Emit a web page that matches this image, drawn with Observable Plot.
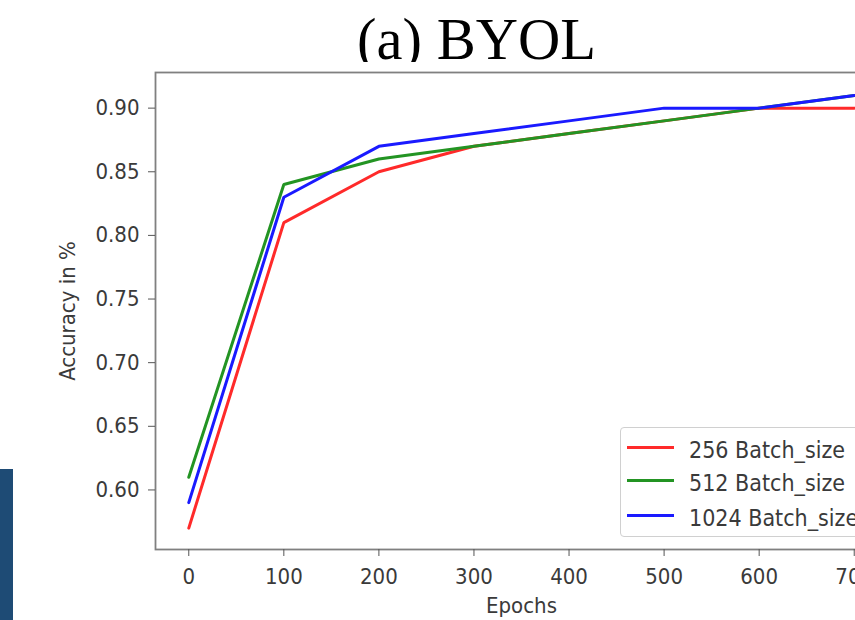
<!DOCTYPE html>
<html><head><meta charset="utf-8">
<script src="https://cdn.jsdelivr.net/npm/d3@7"></script>
<script src="https://cdn.jsdelivr.net/npm/@observablehq/plot@0.6"></script>
<style>
body{margin:0;overflow:hidden;background:#fff}
#wrap{position:relative;width:855px;height:620px;overflow:hidden;background:#fff}
#titleclip{position:absolute;left:0;top:0;width:855px;height:62px;overflow:hidden;pointer-events:none}
#title{position:absolute;left:0;top:11px;width:953px;text-align:center;font-family:"Liberation Serif","Times New Roman",serif;font-size:58.5px;line-height:58px;color:#000;white-space:nowrap}
#bar{position:absolute;left:0;top:469px;width:13px;height:151px;background:#1e4b75}
#legend{position:absolute;left:620px;top:427px;width:270px;height:110px;border:1px solid #d0d0d0;border-radius:4px;background:#fff;box-sizing:border-box}
.row{position:absolute;left:0;height:34px;width:270px}
.sw{position:absolute;left:6px;top:16px;width:47px;height:3px}
.lab{position:absolute;left:68px;top:3px;line-height:34px;font-family:"DejaVu Sans Condensed","DejaVu Sans",sans-serif;font-stretch:condensed;font-size:23px;color:#3a3a3a;white-space:nowrap}
</style></head><body><div id="wrap"></div>
<script>
const epochs = [0, 100, 200, 300, 400, 500, 600, 700];
const seriesNames = ["256 Batch_size", "512 Batch_size", "1024 Batch_size"];
const acc256 = [0.57, 0.81, 0.85, 0.87, 0.88, 0.89, 0.90, 0.90];
const acc512 = [0.61, 0.84, 0.86, 0.87, 0.88, 0.89, 0.90, 0.91];
const acc1024 = [0.59, 0.83, 0.87, 0.88, 0.89, 0.90, 0.90, 0.91];
const seriesColors = ["#ff2a2a", "#239423", "#1a1aff"];
const yTicks = [0.60, 0.65, 0.70, 0.75, 0.80, 0.85, 0.90];
const xTicks = [0, 100, 200, 300, 400, 500, 600, 700];
const titleText = "(a) BYOL";
const xLabel = "Epochs";
const yLabel = "Accuracy in %";

const seriesValues = [acc256, acc512, acc1024];
const data = [];
seriesNames.forEach((name, i) => {
  epochs.forEach((e, j) => data.push({series: name, epoch: e, acc: seriesValues[i][j]}));
});

const font = '"DejaVu Sans Condensed","DejaVu Sans",sans-serif';
const chart = Plot.plot({
  width: 855,
  height: 620,
  marginLeft: 155,
  marginRight: -32,
  marginTop: 72,
  marginBottom: 71,
  style: {fontFamily: font, fontSize: "22px", fontStretch: "condensed", background: "transparent", overflow: "hidden"},
  x: {domain: [-35, 735], range: [155, 887]},
  y: {domain: [0.5532, 0.928]},
  color: {domain: seriesNames, range: seriesColors},
  marks: [
    Plot.frame({stroke: "#808080", strokeWidth: 1.8}),
    Plot.axisY(yTicks, {tickFormat: d3.format(".2f"), tickSize: 7, tickPadding: 9, label: null, stroke: "#555", color: "#3a3a3a", fontSize: 22}),
    Plot.axisX(xTicks, {tickSize: 7, tickPadding: 12, label: null, stroke: "#555", color: "#3a3a3a", fontSize: 22}),
    Plot.line(data, {x: "epoch", y: "acc", z: "series", stroke: "series", strokeWidth: 3, strokeLinejoin: "miter"}),
    Plot.text([yLabel], {frameAnchor: "left", dx: -88, rotate: -90, textAnchor: "middle", lineAnchor: "middle", fontSize: 22, fill: "#3a3a3a"}),
    Plot.text([xLabel], {frameAnchor: "bottom", dy: 56, textAnchor: "middle", lineAnchor: "middle", fontSize: 22, fill: "#3a3a3a"})
  ]
});
const wrap = document.getElementById("wrap");
wrap.appendChild(chart);

const tc = document.createElement("div"); tc.id = "titleclip";
const t = document.createElement("div"); t.id = "title"; t.textContent = titleText;
tc.appendChild(t); wrap.appendChild(tc);

const bar = document.createElement("div"); bar.id = "bar"; wrap.appendChild(bar);

const lg = document.createElement("div"); lg.id = "legend";
const rowTops = [2, 35, 70];
seriesNames.forEach((name, i) => {
  const r = document.createElement("div"); r.className = "row"; r.style.top = rowTops[i] + "px";
  const sw = document.createElement("div"); sw.className = "sw"; sw.style.background = seriesColors[i];
  const lb = document.createElement("div"); lb.className = "lab"; lb.textContent = name;
  r.appendChild(sw); r.appendChild(lb); lg.appendChild(r);
});
wrap.appendChild(lg);
</script></body></html>
